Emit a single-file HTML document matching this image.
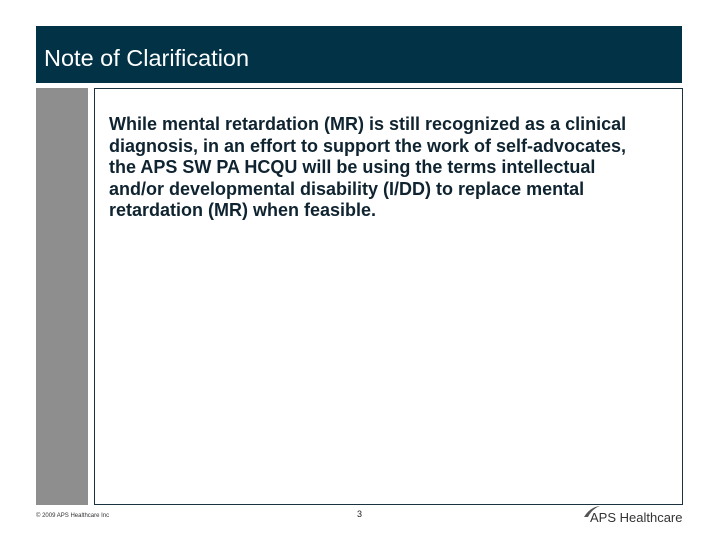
<!DOCTYPE html>
<html><head><meta charset="utf-8"><style>
body{margin:0;width:720px;height:540px;background:#fff;position:relative;overflow:hidden;font-family:"Liberation Sans",sans-serif}
div{position:absolute}
</style></head><body>
<div style="left:36px;top:26px;width:646px;height:57px;background:#023246"></div>
<div style="left:44px;top:45px;color:#fff;font-size:23.5px">Note of Clarification</div>
<div style="left:36px;top:88px;width:52px;height:417px;background:#8e8e8e"></div>
<div style="left:94px;top:88px;width:587px;height:415px;border:1px solid #1b3340"></div>
<div style="left:109px;top:114px;white-space:nowrap;color:#0f2430;font-size:18px;font-weight:bold;line-height:21.5px">While mental retardation (MR) is still recognized as a clinical<br>diagnosis, in an effort to support the work of self-advocates,<br>the APS SW PA HCQU will be using the terms intellectual<br>and/or developmental disability (I/DD) to replace mental<br>retardation (MR) when feasible.</div>
<div style="left:36px;top:513px;font-size:6px;color:#333">© 2009 APS Healthcare Inc</div>
<div style="left:357px;top:509px;font-size:9px;color:#222">3</div>
<div style="left:590px;top:510px;font-size:13px;color:#333">APS Healthcare</div>
<svg style="position:absolute;left:582px;top:505px" width="20" height="14"><path d="M2 12 Q8 2 18 1 Q10 4 6 12Z" fill="#555"/></svg>
</body></html>
